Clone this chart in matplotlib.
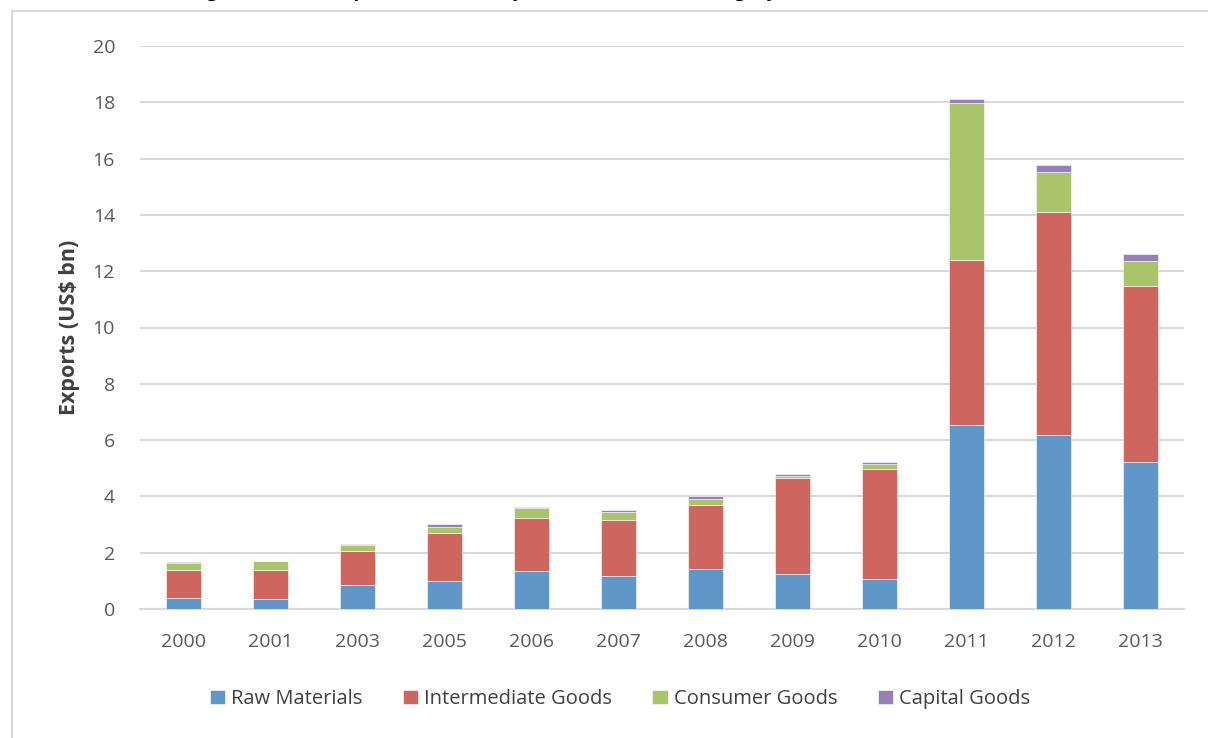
import numpy as np
import matplotlib
matplotlib.use('Agg')
import matplotlib.pyplot as plt
from matplotlib.patches import Rectangle

plt.rcParams['font.family'] = ['Open Sans', 'DejaVu Sans']

# values (US$ bn)
years = ['2000', '2001', '2003', '2005', '2006', '2007', '2008', '2009', '2010', '2011', '2012', '2013']
raw_materials = [0.38, 0.36, 0.85, 1.01, 1.35, 1.17, 1.42, 1.24, 1.05, 6.53, 6.17, 5.23]
intermediate = [0.99, 1.04, 1.22, 1.70, 1.90, 2.00, 2.27, 3.42, 3.93, 5.87, 7.93, 6.24]
consumer = [0.27, 0.29, 0.21, 0.22, 0.33, 0.28, 0.22, 0.08, 0.18, 5.57, 1.42, 0.89]
capital = [0.03, 0.02, 0.03, 0.10, 0.04, 0.07, 0.10, 0.06, 0.06, 0.15, 0.24, 0.25]

series = [
    ('Raw Materials', raw_materials, '#6096c8'),
    ('Intermediate Goods', intermediate, '#cd665f'),
    ('Consumer Goods', consumer, '#aac46c'),
    ('Capital Goods', capital, '#9580b7'),
]

W, H = 1208, 738
fig = plt.figure(figsize=(W / 100, H / 100), dpi=100)
ax = fig.add_axes([140 / W, 1 - 609 / H, (1184 - 140) / W, (609 - 46) / H])

x = np.arange(len(years))
bottom = np.zeros(len(years))
for name, vals, col in series:
    ax.bar(x, vals, 0.4, bottom=bottom, color=col, label=name,
           edgecolor='white', linewidth=0.4, zorder=3)
    bottom += np.array(vals)

ax.set_xlim(-0.5, len(years) - 0.5)
ax.set_ylim(0, 20)
ax.set_yticks(range(0, 21, 2))
ax.set_xticks(x)
ax.set_xticklabels(years)
ax.grid(axis='y', color='#d9d9d9', linewidth=1.5, zorder=0)
for s in ['top', 'right', 'left']:
    ax.spines[s].set_visible(False)
ax.spines['bottom'].set_color('#d9d9d9')
ax.spines['bottom'].set_linewidth(1.5)
ax.tick_params(axis='both', length=0, labelsize=14, labelcolor='#595959')
ax.tick_params(axis='y', pad=18)
ax.tick_params(axis='x', pad=17)

ax.set_ylabel('Exports (US$ bn)', fontsize=15.5, fontweight='bold', color='#404040')
ax.yaxis.set_label_coords(-(140 - 80) / (1184 - 140), 0.5)

fig.legend(loc='center', bbox_to_anchor=(620 / W, 1 - 699 / H), ncol=4,
           frameon=False, fontsize=14.5, handlelength=0.75, handleheight=0.75,
           handletextpad=0.3, columnspacing=2.0, labelcolor='#404040')

# title is cut off at the top edge of the picture, only descenders show
fig.text(190 / W, 1 + 4 / H, 'Figure 2: Total Exports (US$, bn) by Broad Economic Category, 2000-2013',
         fontsize=14, fontweight='bold', ha='left', va='baseline')

# chart frame
fig.patches.append(Rectangle((12 / W, -0.1), 1.2, 1 - 11 / H + 0.1, transform=fig.transFigure,
                             fill=False, edgecolor='#d9d9d9', linewidth=1.5))

fig.savefig('out.png', dpi=100)
